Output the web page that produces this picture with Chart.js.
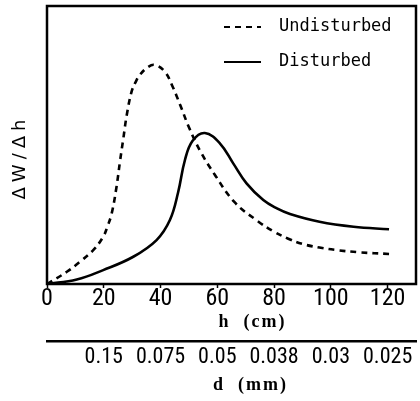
<!DOCTYPE html>
<html>
<head>
<meta charset="utf-8">
<script src="https://cdn.jsdelivr.net/npm/chart.js@4.4.1/dist/chart.umd.min.js"></script>
<style>
  html, body { margin: 0; padding: 0; background: #fff; }
  #wrap { width: 420px; height: 401px; }
</style>
</head>
<body>
<div id="wrap"><canvas id="chart" width="420" height="401"></canvas></div>
<script>
// h (cm) ticks and the matching grain size d (mm) ticks
const hTicks = [0, 20, 40, 60, 80, 100, 120];
const dTickPos = [20, 40, 60, 80, 100, 120];
const dLabels = ['0.15', '0.075', '0.05', '0.038', '0.03', '0.025'];

// dW/dh, relative units (0-100 = full plot height)
const hUndisturbed = [0, 7, 11.6, 16.3, 19.8, 21.3, 22.8, 24.5, 25.7, 26.9, 28.1, 29.8, 31.2, 32.7, 35.5, 38, 41.5, 44, 47, 50, 54, 59, 66, 74, 80, 85, 90, 96, 102, 110, 120.5];
const wUndisturbed = [0, 4.4, 8, 12.2, 17, 20.7, 25.4, 35, 44, 52.4, 60.8, 69.2, 72.6, 75.2, 78, 78.8, 76.4, 71.6, 64.2, 56.4, 47.8, 39.5, 29.5, 22.8, 18.8, 16.3, 14.4, 13.1, 12.2, 11.4, 10.8];

const hDisturbed = [0, 10.5, 19.8, 30.4, 38.6, 43.3, 46.2, 48.6, 51.3, 55.6, 60.9, 65.6, 70.3, 76.2, 81, 85.6, 96, 108, 120.5];
const wDisturbed = [0, 1.6, 5, 9.8, 15.8, 23, 33, 44.6, 51.5, 54.3, 50.6, 43.4, 36.2, 30.2, 27.2, 25.2, 22.4, 20.6, 19.7];

function toPoints(xs, ys) {
  return xs.map((x, i) => ({ x: x, y: ys[i] }));
}

const tickFamily = "'Liberation Sans Narrow', 'Roboto Condensed', Roboto, sans-serif";

// box around the plot, legend in the corner, axis titles
const decorations = {
  id: 'decorations',
  afterDraw(chart) {
    const { ctx, chartArea: a } = chart;
    ctx.save();
    ctx.strokeStyle = '#000';
    ctx.fillStyle = '#000';
    ctx.lineWidth = 2.5;
    ctx.setLineDash([]);
    ctx.strokeRect(a.left, a.top, a.right - a.left, a.bottom - a.top);

    // legend
    ctx.font = "17px 'DejaVu Sans Mono', monospace";
    ctx.textBaseline = 'middle';
    ctx.textAlign = 'left';
    chart.data.datasets.forEach((ds, i) => {
      const y = a.top + 21 + i * 35;
      ctx.lineWidth = 2;
      ctx.setLineDash(ds.borderDash || []);
      ctx.beginPath();
      ctx.moveTo(a.right - 192, y);
      ctx.lineTo(a.right - 155, y);
      ctx.stroke();
      ctx.setLineDash([]);
      ctx.fillText(ds.label, a.right - 137, y);
    });

    // axis titles
    const xs = chart.scales.x, x2 = chart.scales.x2;
    ctx.font = "bold 18px 'Liberation Serif', serif";
    ctx.letterSpacing = '2px';
    ctx.textAlign = 'center';
    ctx.fillText('h  (cm)', (a.left + a.right) / 2 + 21, xs.bottom - 19);
    ctx.fillText('d  (mm)', (a.left + a.right) / 2 + 19, x2.bottom - 16);

    ctx.font = "18px 'DejaVu Sans', sans-serif";
    ctx.letterSpacing = '5px';
    ctx.translate(20, (a.top + a.bottom) / 2 + 12);
    ctx.rotate(-Math.PI / 2);
    ctx.fillText('\u0394W/\u0394h', 0, 0);
    ctx.restore();
  }
};

new Chart(document.getElementById('chart'), {
  type: 'line',
  data: {
    datasets: [{
      label: 'Undisturbed',
      data: toPoints(hUndisturbed, wUndisturbed),
      borderColor: '#000',
      borderWidth: 2.6,
      borderDash: [6, 5],
      tension: 0.4,
      pointRadius: 0,
      fill: false
    }, {
      label: 'Disturbed',
      data: toPoints(hDisturbed, wDisturbed),
      borderColor: '#000',
      borderWidth: 2.6,
      tension: 0.4,
      pointRadius: 0,
      fill: false
    }]
  },
  options: {
    responsive: false,
    animation: false,
    events: [],
    layout: { padding: { left: 47, right: 4, top: 6, bottom: 0 } },
    plugins: {
      legend: { display: false },
      tooltip: { enabled: false }
    },
    scales: {
      x: {
        type: 'linear',
        position: 'bottom',
        min: 0,
        max: 130,
        weight: 0,
        grid: { display: true, drawOnChartArea: false, drawTicks: true, tickLength: 4, tickWidth: 1.5, tickColor: '#000' },
        border: { display: false },
        afterBuildTicks: scale => { scale.ticks = hTicks.map(v => ({ value: v })); },
        afterFit: scale => { scale.height = 57; },
        ticks: { color: '#000', font: { family: tickFamily, size: 24 }, padding: -3, maxRotation: 0 }
      },
      x2: {
        type: 'linear',
        position: 'bottom',
        min: 0,
        max: 130,
        weight: 1,
        grid: { display: false, drawTicks: false },
        border: { display: true, color: '#000', width: 2.5 },
        afterBuildTicks: scale => { scale.ticks = dTickPos.map(v => ({ value: v })); },
        afterFit: scale => { scale.height = 60; },
        ticks: {
          color: '#000',
          font: { family: tickFamily, size: 22 },
          padding: 3,
          maxRotation: 0,
          callback: v => dLabels[dTickPos.indexOf(v)]
        }
      },
      y: {
        display: false,
        min: 0,
        max: 100
      }
    }
  },
  plugins: [decorations]
});
</script>
</body>
</html>
